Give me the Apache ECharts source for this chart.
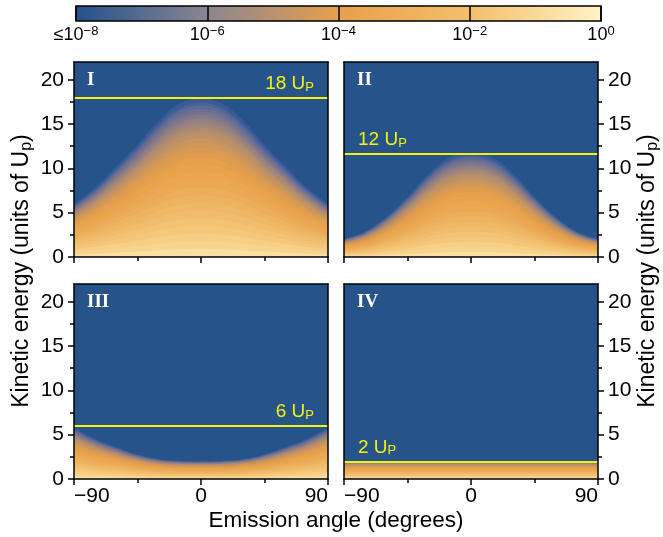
<!DOCTYPE html>
<html>
<head>
<meta charset="utf-8">
<script src="https://cdn.jsdelivr.net/npm/echarts@6/dist/echarts.min.js"></script>
<style>
html, body { margin: 0; padding: 0; background: #fff; }
#chart { width: 663px; height: 537px; }
</style>
</head>
<body>
<div id="chart"></div>
<script>
// emission angle samples (degrees) and the energy cutoff (units of Up)
const angles = [-90, -75, -60, -45, -30, -15, 0, 15, 30, 45, 60, 75, 90]
const cutoffI = [5.8, 7.6, 9.9, 12.3, 14.9, 16.8, 17.4, 16.8, 14.9, 12.3, 9.9, 7.6, 5.8]
const cutoffII = [2.0, 2.8, 4.4, 6.6, 9.1, 10.9, 11.4, 10.9, 9.1, 6.6, 4.4, 2.8, 2.0]
const cutoffIII = [5.6, 4.4, 3.5, 2.7, 2.2, 2.0, 1.95, 2.0, 2.2, 2.7, 3.5, 4.4, 5.6]
const cutoffIV = [2.0, 2.0, 2.0, 2.0, 2.0, 2.0, 2.0, 2.0, 2.0, 2.0, 2.0, 2.0, 2.0]
const cutoffs = [cutoffI, cutoffII, cutoffIII, cutoffIV]

const panelNames = ['I', 'II', 'III', 'IV']
const lineEnergies = [18, 11.6, 6, 2]
const lineLabels = ['18 U', '12 U', '6 U', '2 U']

const angleTicks = [-90, 0, 90]
const energyTicks = [0, 5, 10, 15, 20]
const energyMinorTicks = [2.5, 7.5, 12.5, 17.5]
const colorbarTicks = [-8, -6, -4, -2, 0]

// fraction of the cutoff where each colour band ends
const bandLevels = [1.03, 1.0, 0.98, 0.96, 0.94, 0.92, 0.9, 0.88, 0.86, 0.84, 0.82, 0.8, 0.77, 0.74, 0.71,
  0.68, 0.64, 0.6, 0.55, 0.5, 0.45, 0.4, 0.35, 0.3, 0.25, 0.2, 0.15, 0.1, 0.05]

const FONT = '"Liberation Sans", Arial, sans-serif'
const SERIF = '"Liberation Serif", "Times New Roman", serif'
const BG_BLUE = '#25538a'
const YELLOW = '#f2f20e'

const shadeStops = [
  [1.04, '#2a5592'], [1.0, '#42609c'], [0.97, '#5e6a96'], [0.93, '#78748e'], [0.88, '#958080'],
  [0.82, '#b18d6f'], [0.75, '#ca955e'], [0.68, '#dd9b50'], [0.6, '#e8a14a'], [0.47, '#eba955'],
  [0.34, '#efb664'], [0.21, '#f3c375'], [0.08, '#f8d48c'], [0.0, '#fde6ae'],
]

function hexToRgb(h) {
  const n = parseInt(h.slice(1), 16)
  return [(n >> 16) & 255, (n >> 8) & 255, n & 255]
}

function shadeAt(f) {
  for (let i = 0; i < shadeStops.length - 1; i++) {
    const [f0, c0] = shadeStops[i]
    const [f1, c1] = shadeStops[i + 1]
    if (f <= f0 && f >= f1) {
      const t = (f0 - f) / (f0 - f1)
      const a = hexToRgb(c0), b = hexToRgb(c1)
      const c = a.map((v, k) => Math.round(v + (b[k] - v) * t))
      return 'rgb(' + c.join(',') + ')'
    }
  }
  return f > 1 ? shadeStops[0][1] : shadeStops[shadeStops.length - 1][1]
}

const panelBoxes = [
  { left: 74, top: 62 },
  { left: 344, top: 62 },
  { left: 74, top: 284 },
  { left: 344, top: 284 },
]
const PANEL_W = 254
const PANEL_H = 195

const myChart = echarts.init(document.getElementById('chart'))

const axisLineStyle = { color: '#000', width: 1.5 }
const labelText = { color: '#000', fontSize: 21, fontFamily: FONT }

const grids = []
const xAxes = []
const yAxes = []
const series = []
const graphics = []

panelBoxes.forEach((box, p) => {
  grids.push({ left: box.left, top: box.top, width: PANEL_W, height: PANEL_H, show: true, backgroundColor: BG_BLUE, borderWidth: 0 })
  const labelsOnLeft = p % 2 === 0
  const side = labelsOnLeft ? 'left' : 'right'
  const other = labelsOnLeft ? 'right' : 'left'

  xAxes.push({
    gridIndex: p, type: 'value', min: -90, max: 90, interval: 90, position: 'bottom', z: 6,
    axisLine: { show: true, onZero: false, lineStyle: axisLineStyle },
    axisTick: { show: true, length: 6, lineStyle: axisLineStyle },
    minorTick: { show: true, splitNumber: 2, length: 4, lineStyle: axisLineStyle },
    splitLine: { show: false },
    axisLabel: {
      show: p >= 2, margin: 7, ...labelText, alignMinLabel: 'left', alignMaxLabel: 'right',
      formatter: v => angleTicks.includes(v) ? (v < 0 ? '\u2212' + (-v) : String(v)) : '',
    },
  })
  xAxes.push({
    gridIndex: p, type: 'value', min: -90, max: 90, position: 'top', z: 6,
    axisLine: { show: true, onZero: false, lineStyle: axisLineStyle },
    axisTick: { show: false }, axisLabel: { show: false }, splitLine: { show: false },
  })

  yAxes.push({
    gridIndex: p, type: 'value', min: 0, max: 22, position: side, z: 6,
    axisLine: { show: true, onZero: false, lineStyle: axisLineStyle },
    axisTick: { show: true, length: 6, lineStyle: axisLineStyle, customValues: energyTicks },
    axisLabel: { show: true, margin: 10, ...labelText, customValues: energyTicks },
    splitLine: { show: false },
  })
  yAxes.push({
    gridIndex: p, type: 'value', min: 0, max: 22, position: side, z: 6,
    axisLine: { show: false, onZero: false },
    axisTick: { show: true, length: 4, lineStyle: axisLineStyle, customValues: energyMinorTicks },
    axisLabel: { show: false }, splitLine: { show: false },
  })
  yAxes.push({
    gridIndex: p, type: 'value', min: 0, max: 22, position: other, z: 6,
    axisLine: { show: true, onZero: false, lineStyle: axisLineStyle },
    axisTick: { show: false }, axisLabel: { show: false }, splitLine: { show: false },
  })

  const cut = cutoffs[p]
  bandLevels.forEach((f, k) => {
    const next = k < bandLevels.length - 1 ? bandLevels[k + 1] : 0
    series.push({
      type: 'line', xAxisIndex: p * 2, yAxisIndex: p * 3,
      data: angles.map((a, i) => [a, cut[i] * f]),
      smooth: 0.4, symbol: 'none', silent: true, z: 2,
      lineStyle: { width: 0 },
      areaStyle: { color: shadeAt((f + next) / 2), opacity: 1 },
    })
  })

  const atEnd = p === 0 || p === 2
  series.push({
    type: 'line', xAxisIndex: p * 2, yAxisIndex: p * 3, data: [], silent: true,
    markLine: {
      silent: true, symbol: 'none', animation: false,
      lineStyle: { color: YELLOW, width: 1.8, type: 'solid' },
      label: {
        show: true, position: atEnd ? 'insideEndTop' : 'insideStartTop', distance: [14, 4],
        formatter: '{a|' + lineLabels[p] + '}{s|P}',
        rich: {
          a: { color: YELLOW, fontSize: 19, fontFamily: FONT, lineHeight: 20 },
          s: { color: YELLOW, fontSize: 13, fontFamily: FONT, lineHeight: 13, verticalAlign: 'bottom' },
        },
      },
      data: [{ yAxis: lineEnergies[p] }],
    },
  })

  graphics.push({
    type: 'text', left: box.left + 13, top: box.top + 9, z: 20,
    style: { text: panelNames[p], fill: '#fff', font: 'bold 19px ' + SERIF },
  })
})

// colour bar
grids.push({
  left: 76, top: 6, width: 525, height: 15, show: true, borderColor: '#000', borderWidth: 1.5,
  backgroundColor: new echarts.graphic.LinearGradient(0, 0, 1, 0, [
    { offset: 0, color: '#24518d' },
    { offset: 0.25, color: '#8a8592' },
    { offset: 0.5, color: '#e8a04a' },
    { offset: 0.75, color: '#f3bf6c' },
    { offset: 1, color: '#fff3c6' },
  ]),
})
xAxes.push({
  gridIndex: 4, type: 'value', min: -8, max: 0, interval: 2, position: 'bottom',
  axisLine: { show: false }, axisTick: { show: false },
  splitLine: { show: true, lineStyle: axisLineStyle },
  axisLabel: {
    margin: 4,
    formatter: v => colorbarTicks.includes(v)
      ? (v === -8 ? '{b|\u226410}{s|\u22128}' : '{b|10}{s|' + (v < 0 ? '\u2212' + (-v) : v) + '}')
      : '',
    rich: {
      b: { color: '#000', fontSize: 18, fontFamily: FONT, lineHeight: 21 },
      s: { color: '#000', fontSize: 13, fontFamily: FONT, lineHeight: 13, verticalAlign: 'top' },
    },
  },
})
yAxes.push({ gridIndex: 4, type: 'value', show: false })

graphics.push({
  type: 'text', x: 336, y: 521, z: 20,
  style: { text: 'Emission angle (degrees)', font: '22.5px ' + FONT, fill: '#000', align: 'center', verticalAlign: 'middle' },
})
const yTitleStyle = {
  text: '{t|Kinetic energy (units of U}{u|p}{t|)}',
  align: 'center', verticalAlign: 'middle',
  rich: {
    t: { fontSize: 23, fontFamily: FONT, fill: '#000', lineHeight: 26 },
    u: { fontSize: 16, fontFamily: FONT, fill: '#000', lineHeight: 16, verticalAlign: 'bottom' },
  },
}
graphics.push({ type: 'text', x: 22, y: 271, rotation: Math.PI / 2, z: 20, style: yTitleStyle })
graphics.push({ type: 'text', x: 648, y: 271, rotation: Math.PI / 2, z: 20, style: { ...yTitleStyle } })

myChart.setOption({
  animation: false,
  backgroundColor: '#fff',
  grid: grids,
  xAxis: xAxes,
  yAxis: yAxes,
  series: series,
  graphic: graphics,
})
</script>
</body>
</html>
